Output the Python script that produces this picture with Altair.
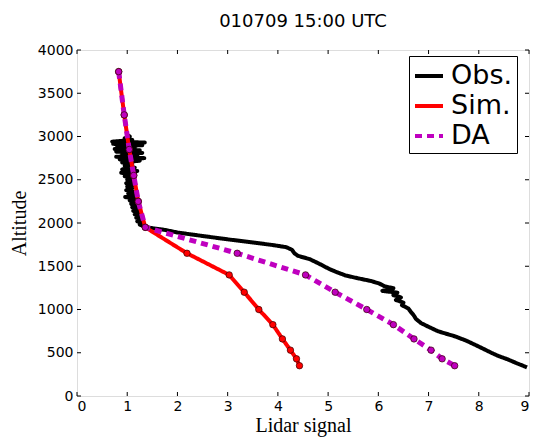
import altair as alt
import pandas as pd

chart_title = "010709 15:00 UTC"
x_title = "Lidar signal"
y_title = "Altitude"

series_names = ["Obs.", "Sim.", "DA"]
series_colors = ["#000000", "#ff0000", "#bf00bf"]
series_dash = [[1, 0], [1, 0], [7, 5]]

x_ticks = [0, 1, 2, 3, 4, 5, 6, 7, 8, 9]
y_ticks = [0, 500, 1000, 1500, 2000, 2500, 3000, 3500, 4000]

# Simulation and data-assimilation profiles
model_alt = [3750, 3250, 2850, 2550, 2250, 1950, 1650, 1400, 1200, 1000, 825, 660, 530, 430, 350]
sim_x = [0.83, 0.94, 1.04, 1.13, 1.22, 1.36, 2.19, 3.03, 3.33, 3.62, 3.90, 4.09, 4.25, 4.37, 4.43]
da_x = [0.83, 0.94, 1.04, 1.13, 1.22, 1.36, 3.19, 4.55, 5.14, 5.77, 6.30, 6.71, 7.05, 7.27, 7.52]

obs_alt = [3020, 3000, 2980, 2960, 2940, 2930, 2915, 2900, 2885, 2870, 2855, 2840, 2825, 2810,
           2795, 2780, 2765, 2750, 2735, 2720, 2700, 2680, 2660, 2640, 2620, 2600, 2580, 2560,
           2540, 2520, 2500, 2480, 2460, 2440, 2420, 2400, 2380, 2360, 2340, 2320, 2300, 2280,
           2260, 2240, 2220, 2200, 2180, 2160, 2140, 2120, 2100, 2080, 2060, 2040, 2020, 2000,
           1980, 1960, 1944, 1920, 1890, 1850, 1811, 1775, 1745, 1720, 1690, 1650, 1620, 1583,
           1530, 1469, 1430, 1393, 1360, 1330, 1300, 1270, 1245, 1215, 1195, 1165, 1140, 1110,
           1080, 1050, 1010, 970, 937, 890, 843, 800, 748, 720, 691, 640, 577, 500, 460, 425,
           380, 350, 330]
obs_x = [1.00, 1.05, 0.95, 1.10, 0.70, 1.35, 0.72, 1.30, 0.80, 1.15, 0.75, 1.25, 0.78, 1.30,
         0.90, 1.20, 0.78, 1.34, 0.85, 1.25, 0.90, 1.10, 0.95, 1.15, 0.90, 1.20, 0.88, 1.15,
         0.95, 1.12, 1.00, 1.10, 0.98, 1.15, 1.00, 1.10, 0.98, 1.12, 1.02, 1.15, 0.96, 1.18,
         1.05, 1.15, 1.08, 1.20, 1.10, 1.25, 1.12, 1.22, 1.15, 1.28, 1.18, 1.30, 1.20, 1.30,
         1.25, 1.35, 1.45, 1.75, 2.00, 2.50, 3.00, 3.50, 3.90, 4.17, 4.28, 4.33, 4.40, 4.63,
         4.82, 5.02, 5.18, 5.35, 5.60, 5.85, 6.02, 6.12, 6.30, 6.08, 6.38, 6.30, 6.45, 6.35,
         6.50, 6.47, 6.60, 6.65, 6.70, 6.75, 6.85, 7.00, 7.19, 7.35, 7.52, 7.75, 7.98, 8.25,
         8.40, 8.57, 8.75, 8.88, 8.96]

rows = []
for i, (xv, yv) in enumerate(zip(obs_x, obs_alt)):
    rows.append({"series": "Obs.", "x": xv, "alt": yv, "idx": i})
for i, (xv, yv) in enumerate(zip(sim_x, model_alt)):
    rows.append({"series": "Sim.", "x": xv, "alt": yv, "idx": i})
for i, (xv, yv) in enumerate(zip(da_x, model_alt)):
    rows.append({"series": "DA", "x": xv, "alt": yv, "idx": i})
df = pd.DataFrame(rows)

W, H = 452, 346
xscale = alt.Scale(domain=[0, 9], nice=False, zero=False)
yscale = alt.Scale(domain=[0, 4000], nice=False, zero=False)

legend = alt.Legend(title=None, orient="none", legendX=W - 120, legendY=6,
                    symbolType="stroke", symbolSize=784, symbolStrokeWidth=4,
                    labelFontSize=27, labelFont="DejaVu Sans", labelColor="black",
                    strokeColor="black", fillColor="white", padding=4, rowPadding=1,
                    labelOffset=6, cornerRadius=0, labelLimit=200)
color_enc = alt.Color("series:N", scale=alt.Scale(domain=series_names, range=series_colors),
                      legend=legend)
dash_enc = alt.StrokeDash("series:N", scale=alt.Scale(domain=series_names, range=series_dash),
                          legend=legend)

x_enc = alt.X("x:Q", scale=xscale,
              axis=alt.Axis(values=x_ticks, title=x_title, ticks=False, domain=False, grid=False,
                            labelFontSize=14, labelFont="DejaVu Sans", labelColor="black",
                            labelPadding=3, titleFont="Liberation Serif", titleFontSize=20,
                            titleFontWeight="normal", titleColor="black", titlePadding=2))
y_enc = alt.Y("alt:Q", scale=yscale,
              axis=alt.Axis(values=y_ticks, title=y_title, ticks=False, domain=False, grid=False,
                            format="d", labelFontSize=14, labelFont="DejaVu Sans",
                            labelColor="black", labelPadding=4, titleFont="Liberation Serif",
                            titleFontSize=20, titleFontWeight="normal", titleColor="black",
                            titlePadding=8))

def line_layer(name, width):
    return alt.Chart(df).transform_filter(alt.datum.series == name).mark_line(
        strokeWidth=width, strokeCap="butt", strokeJoin="round").encode(
        x=x_enc, y=y_enc, color=color_enc, strokeDash=dash_enc, order=alt.Order("idx:Q"))

def point_layer(name):
    return alt.Chart(df).transform_filter(alt.datum.series == name).mark_circle(
        size=42, opacity=1, stroke="#330000", strokeWidth=0.7).encode(
        x=alt.X("x:Q", scale=xscale), y=alt.Y("alt:Q", scale=yscale),
        fill=alt.Fill("series:N", scale=alt.Scale(domain=series_names, range=series_colors),
                      legend=None))

xt = pd.DataFrame({"v": x_ticks})
yt = pd.DataFrame({"v": y_ticks})
tick_layers = [
    alt.Chart(xt).mark_rule(color="black", strokeWidth=1).encode(
        x=alt.X("v:Q", scale=xscale), y=alt.value(H), y2=alt.value(H - 4)),
    alt.Chart(xt).mark_rule(color="black", strokeWidth=1).encode(
        x=alt.X("v:Q", scale=xscale), y=alt.value(0), y2=alt.value(4)),
    alt.Chart(yt).mark_rule(color="black", strokeWidth=1).encode(
        y=alt.Y("v:Q", scale=yscale), x=alt.value(0), x2=alt.value(4)),
    alt.Chart(yt).mark_rule(color="black", strokeWidth=1).encode(
        y=alt.Y("v:Q", scale=yscale), x=alt.value(W - 4), x2=alt.value(W)),
]

chart = alt.layer(
    *tick_layers,
    line_layer("Obs.", 4),
    line_layer("Sim.", 4),
    point_layer("Sim."),
    line_layer("DA", 5),
    point_layer("DA"),
).properties(
    width=W, height=H,
    title=alt.TitleParams(chart_title, fontSize=18, font="DejaVu Sans", fontWeight="normal",
                          color="black", anchor="middle", offset=12),
    autosize=alt.AutoSizeParams(type="none"),
    padding={"left": 69, "top": 42, "right": 5, "bottom": 41},
).configure_view(stroke="black", strokeWidth=1.2).configure(background="white")

chart.save("out.html", embed_options={"renderer": "svg", "actions": False})
